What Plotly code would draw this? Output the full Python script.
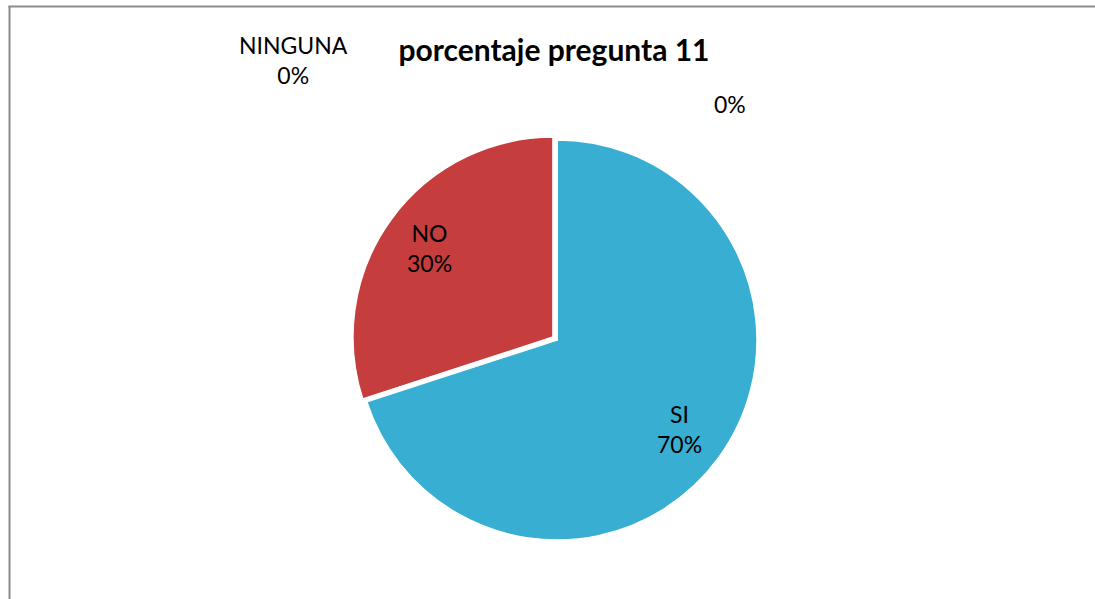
import math
import plotly.graph_objects as go

# datos de la pregunta 11
categorias = ["SI", "NO", "NINGUNA", ""]
valores = [70, 30, 0, 0]
colores = ["#38AED3", "#C53D3C", "#9BBB59", "#8064A2"]
separacion = [0, 0.025, 0, 0]
titulo = "porcentaje pregunta 11"

W, H = 1095, 599
total = sum(valores)

# centro y radio de la torta, en pixeles de la pagina
cx, cy, radio = 557, 340, 200
caja = 2 * radio * (1 + max(separacion))

fig = go.Figure()
fig.add_trace(go.Pie(
    labels=categorias,
    values=valores,
    sort=False,
    direction="clockwise",
    rotation=0,
    pull=separacion,
    marker=dict(colors=colores, line=dict(color="white", width=1.5)),
    textinfo="none",
    showlegend=False,
    hoverinfo="label+percent",
    domain=dict(x=[(cx - caja / 2) / W, (cx + caja / 2) / W],
                y=[1 - (cy + caja / 2) / H, 1 - (cy - caja / 2) / H]),
))

fuente = dict(family="Lato", size=23, color="black")

# etiquetas dentro de las porciones, en el angulo medio de cada una
acum = 0
for cat, val, sep in zip(categorias, valores, separacion):
    if val > 0:
        medio = 2 * math.pi * (acum + val / 2) / total
        r = radio * (0.76 + sep)
        x = cx + r * math.sin(medio)
        y = cy - r * math.cos(medio)
        fig.add_annotation(x=x / W, y=1 - y / H, xref="paper", yref="paper",
                           text=f"{cat}<br>{round(100 * val / total)}%",
                           showarrow=False, align="center",
                           xanchor="center", yanchor="middle", font=fuente)
    acum += val

# etiquetas de las categorias sin respuestas (0%), que la torta no dibuja
pos_cero = {"NINGUNA": (293, 60), "": (730, 104)}
for cat, val in zip(categorias, valores):
    if val == 0:
        pct = f"{round(100 * val / total)}%"
        txt = f"{cat}<br>{pct}" if cat else pct
        x, y = pos_cero[cat]
        fig.add_annotation(x=x / W, y=1 - y / H, xref="paper", yref="paper",
                           text=txt, showarrow=False, align="center",
                           xanchor="center", yanchor="middle", font=fuente)

# marco del grafico
fig.add_shape(type="line", xref="paper", yref="paper",
              x0=9.5 / W, x1=9.5 / W, y0=0, y1=1 - 6 / H,
              line=dict(color="#8c8c8c", width=2))
fig.add_shape(type="line", xref="paper", yref="paper",
              x0=8.5 / W, x1=1, y0=1 - 6.5 / H, y1=1 - 6.5 / H,
              line=dict(color="#8c8c8c", width=2))

fig.update_layout(
    width=W, height=H,
    margin=dict(l=0, r=0, t=0, b=0),
    paper_bgcolor="white",
    plot_bgcolor="white",
    title=dict(text="<b>" + titulo + "</b>", x=554 / W, y=1 - 50 / H,
               xanchor="center", yanchor="middle",
               font=dict(family="Lato", size=30, color="black")),
)

fig.write_html("out.html", config={"displayModeBar": False},
               post_script="document.body.style.margin='0';")
